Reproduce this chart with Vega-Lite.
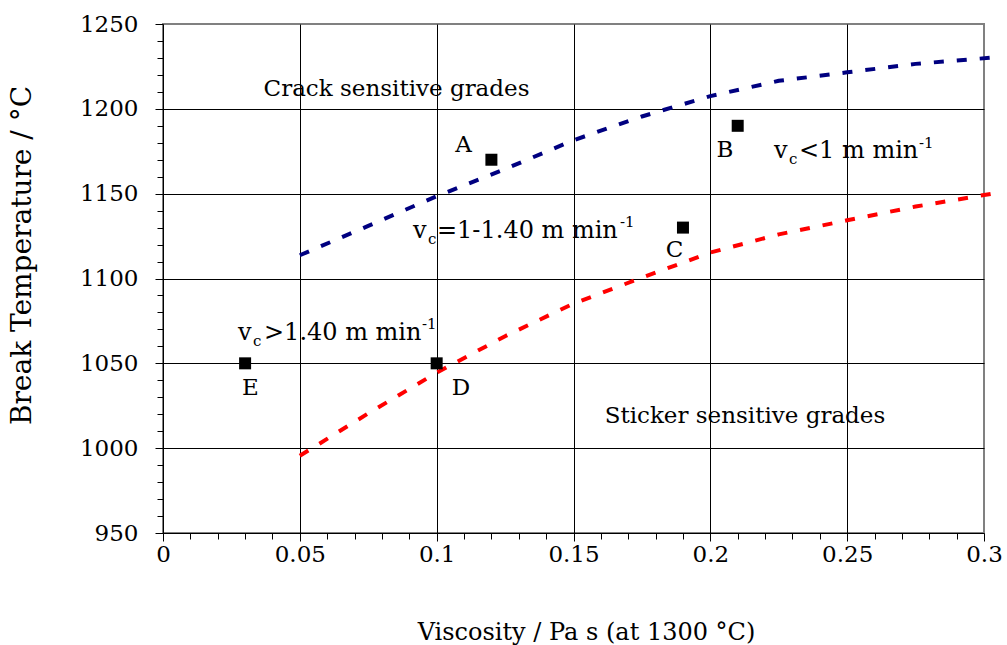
{
  "$schema": "https://vega.github.io/schema/vega-lite/v6.json",
  "width": 821,
  "height": 509,
  "autosize": {"type": "none"},
  "padding": {"left": 163, "top": 24, "right": 23, "bottom": 112},
  "background": "white",
  "config": {
    "view": {"stroke": "#808080", "strokeWidth": 2},
    "font": "DejaVu Serif",
    "axis": {
      "labelFont": "DejaVu Serif",
      "titleFont": "DejaVu Serif",
      "labelColor": "black",
      "titleColor": "black",
      "titleFontWeight": "normal",
      "domainColor": "black",
      "domainWidth": 1,
      "tickColor": "black",
      "tickWidth": 1,
      "gridColor": "black",
      "gridWidth": 1
    }
  },
  "datasets": {
    "blue": [
      {"v": 0.05, "t": 1113.7},
      {"v": 0.075, "t": 1131},
      {"v": 0.1, "t": 1148.5},
      {"v": 0.125, "t": 1164.5},
      {"v": 0.15, "t": 1181.5},
      {"v": 0.175, "t": 1195.5},
      {"v": 0.2, "t": 1207.5},
      {"v": 0.225, "t": 1216.5},
      {"v": 0.25, "t": 1221.5},
      {"v": 0.275, "t": 1226.5},
      {"v": 0.303, "t": 1230.2}
    ],
    "red": [
      {"v": 0.05, "t": 995.5},
      {"v": 0.075, "t": 1020.5},
      {"v": 0.1, "t": 1044.5},
      {"v": 0.125, "t": 1066},
      {"v": 0.15, "t": 1085.2},
      {"v": 0.175, "t": 1100.5},
      {"v": 0.2, "t": 1115.3},
      {"v": 0.225, "t": 1126},
      {"v": 0.25, "t": 1134.3},
      {"v": 0.275, "t": 1142.4},
      {"v": 0.303, "t": 1150}
    ],
    "grades": [
      {"v": 0.12, "t": 1170, "name": "A"},
      {"v": 0.21, "t": 1190, "name": "B"},
      {"v": 0.19, "t": 1130, "name": "C"},
      {"v": 0.1, "t": 1050, "name": "D"},
      {"v": 0.03, "t": 1050, "name": "E"}
    ],
    "notes": [
      {"v": 0.08533, "t": 1207.6, "label": "Crack sensitive grades", "role": "big"},
      {"v": 0.21266, "t": 1014.7, "label": "Sticker sensitive grades", "role": "big"},
      {"v": 0.1098, "t": 1174.6, "label": "A", "role": "big"},
      {"v": 0.20536, "t": 1171.6, "label": "B", "role": "big"},
      {"v": 0.1869, "t": 1112.7, "label": "C", "role": "big"},
      {"v": 0.10889, "t": 1031.3, "label": "D", "role": "big"},
      {"v": 0.03197, "t": 1031.3, "label": "E", "role": "big"},
      {"v": 0.09135, "t": 1123.9, "label": "v", "role": "main"},
      {"v": 0.0274, "t": 1063.8, "label": "v", "role": "main"},
      {"v": 0.22326, "t": 1171.0, "label": "v", "role": "main"},
      {"v": 0.09683, "t": 1120.3, "label": "c", "role": "small"},
      {"v": 0.03289, "t": 1060.3, "label": "c", "role": "small"},
      {"v": 0.22874, "t": 1167.5, "label": "c", "role": "small"},
      {"v": 0.10012, "t": 1123.9, "label": "=1-1.40 m min", "role": "main"},
      {"v": 0.03691, "t": 1063.8, "label": ">1.40 m min", "role": "main"},
      {"v": 0.2324, "t": 1171.0, "label": "<1 m min", "role": "main"},
      {"v": 0.16699, "t": 1130.4, "label": "-1", "role": "small"},
      {"v": 0.09464, "t": 1070.2, "label": "-1", "role": "small"},
      {"v": 0.27624, "t": 1176.9, "label": "-1", "role": "small"}
    ]
  },
  "layer": [
    {
      "data": {"name": "blue"},
      "mark": {"type": "line", "color": "#000080", "strokeWidth": 4, "strokeDash": [10, 13], "strokeCap": "butt", "clip": false},
      "encoding": {
        "x": {
          "field": "v",
          "type": "quantitative",
          "scale": {"domain": [0, 0.3], "nice": false, "zero": false},
          "axis": {
            "title": "Viscosity / Pa s (at 1300 °C)",
            "titleFontSize": 24,
            "titleX": 423,
            "titleY": 99,
            "titleBaseline": "middle",
            "titleAlign": "center",
            "tickCount": 100,
            "values": [0, 0.01, 0.02, 0.03, 0.04, 0.05, 0.06, 0.07, 0.08, 0.09, 0.1, 0.11, 0.12, 0.13, 0.14, 0.15, 0.16, 0.17, 0.18, 0.19, 0.2, 0.21, 0.22, 0.23, 0.24, 0.25, 0.26, 0.27, 0.28, 0.29, 0.3],
            "labelExpr": "abs(datum.value*20 - round(datum.value*20)) < 0.001 ? format(datum.value, '~g') : ''",
            "labelFontSize": 23,
            "labelPadding": 2,
            "labelOverlap": false,
            "labelFlush": false,
            "labelBound": false,
            "grid": true,
            "gridOpacity": {"condition": {"test": "abs(datum.value*20 - round(datum.value*20)) < 0.001 && datum.value > 0.001 && datum.value < 0.299", "value": 1}, "value": 0},
            "tickSize": {"condition": {"test": "abs(datum.value*20 - round(datum.value*20)) < 0.001", "value": 8}, "value": 6}
          }
        },
        "y": {
          "field": "t",
          "type": "quantitative",
          "scale": {"domain": [950, 1250], "nice": false, "zero": false},
          "axis": {
            "title": "Break Temperature / °C",
            "titleFontSize": 28,
            "titleX": -141,
            "titleY": 231,
            "titleBaseline": "middle",
            "titleAlign": "center",
            "titleAngle": -90,
            "tickCount": 100,
            "values": [950, 960, 970, 980, 990, 1000, 1010, 1020, 1030, 1040, 1050, 1060, 1070, 1080, 1090, 1100, 1110, 1120, 1130, 1140, 1150, 1160, 1170, 1180, 1190, 1200, 1210, 1220, 1230, 1240, 1250],
            "format": "d",
            "labelExpr": "datum.value % 50 === 0 ? datum.label : ''",
            "labelFontSize": 23,
            "labelPadding": 17,
            "labelOverlap": false,
            "labelFlush": false,
            "labelBound": false,
            "grid": true,
            "gridOpacity": {"condition": {"test": "datum.value % 50 === 0 && datum.value > 950 && datum.value < 1250", "value": 1}, "value": 0},
            "tickSize": {"condition": {"test": "datum.value % 50 === 0", "value": 8}, "value": 6}
          }
        }
      }
    },
    {
      "data": {"name": "red"},
      "mark": {"type": "line", "color": "#FF0000", "strokeWidth": 4, "strokeDash": [10, 13], "strokeCap": "butt", "clip": false},
      "encoding": {
        "x": {"field": "v", "type": "quantitative"},
        "y": {"field": "t", "type": "quantitative"}
      }
    },
    {
      "data": {"name": "grades"},
      "mark": {"type": "point", "shape": "square", "filled": true, "color": "black", "opacity": 1, "size": 144},
      "encoding": {
        "x": {"field": "v", "type": "quantitative"},
        "y": {"field": "t", "type": "quantitative"}
      }
    },
    {
      "data": {"name": "notes"},
      "transform": [{"filter": "datum.role === 'big'"}],
      "mark": {"type": "text", "align": "center", "baseline": "alphabetic", "font": "DejaVu Serif", "fontSize": 23, "color": "black"},
      "encoding": {
        "x": {"field": "v", "type": "quantitative"},
        "y": {"field": "t", "type": "quantitative"},
        "text": {"field": "label"}
      }
    },
    {
      "data": {"name": "notes"},
      "transform": [{"filter": "datum.role === 'main'"}],
      "mark": {"type": "text", "align": "left", "baseline": "alphabetic", "font": "DejaVu Serif", "fontSize": 24, "color": "black"},
      "encoding": {
        "x": {"field": "v", "type": "quantitative"},
        "y": {"field": "t", "type": "quantitative"},
        "text": {"field": "label"}
      }
    },
    {
      "data": {"name": "notes"},
      "transform": [{"filter": "datum.role === 'small'"}],
      "mark": {"type": "text", "align": "left", "baseline": "alphabetic", "font": "DejaVu Serif", "fontSize": 15, "color": "black"},
      "encoding": {
        "x": {"field": "v", "type": "quantitative"},
        "y": {"field": "t", "type": "quantitative"},
        "text": {"field": "label"}
      }
    }
  ]
}
